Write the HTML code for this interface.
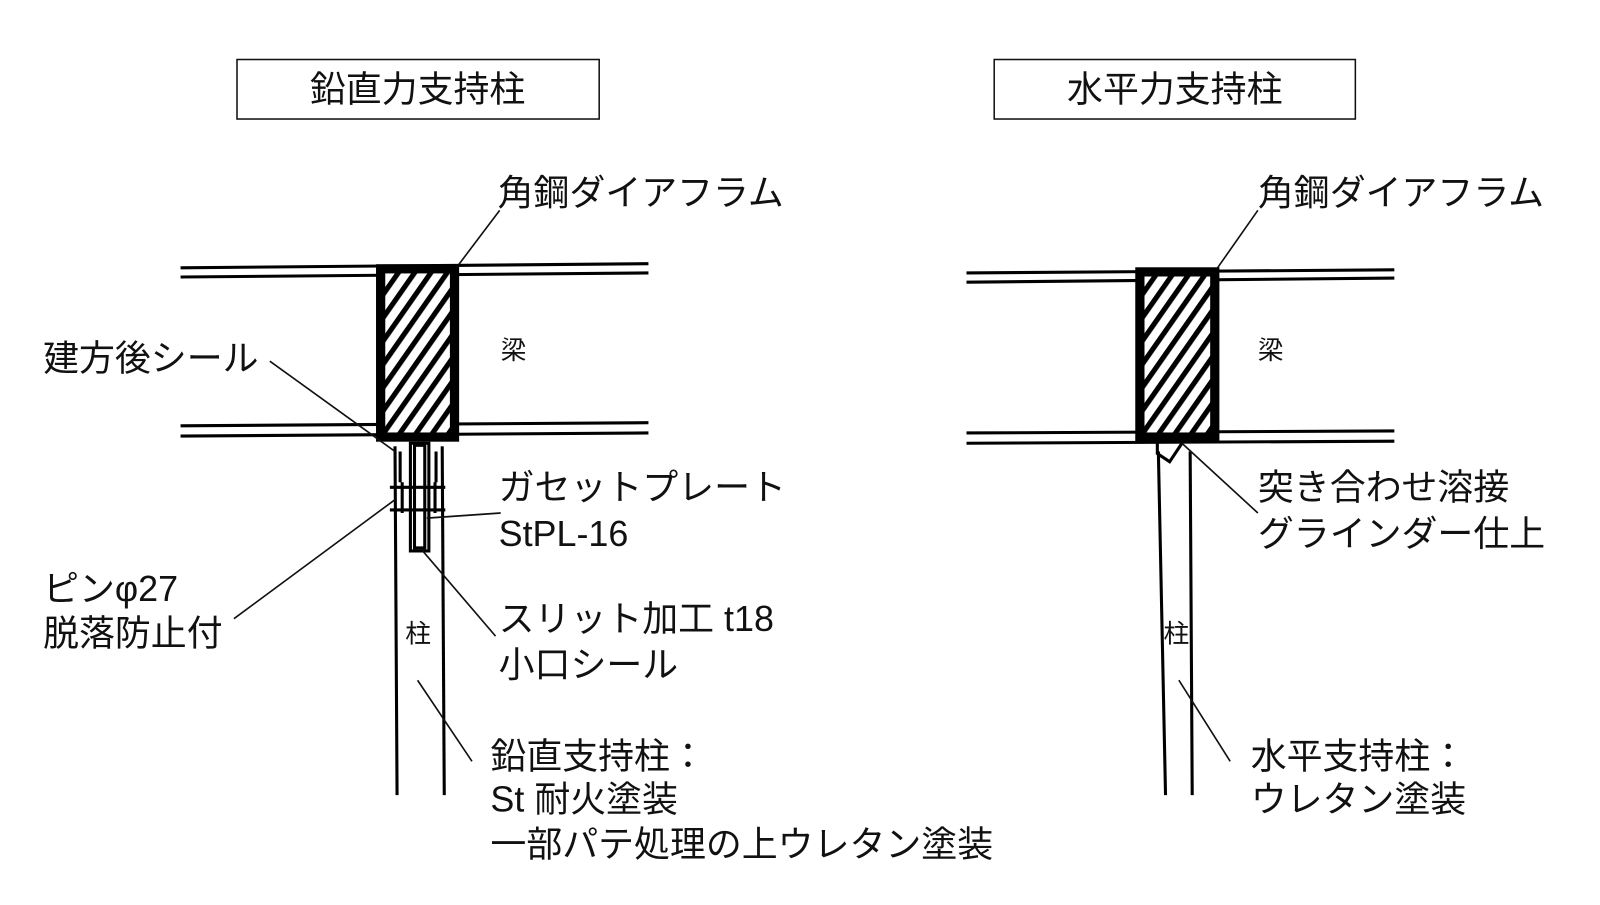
<!DOCTYPE html>
<html><head><meta charset="utf-8"><style>
body{margin:0;background:#fff}
svg text{font-family:"Liberation Sans","Noto Sans CJK JP",sans-serif;font-size:35px;fill:#111}
</style></head><body>
<svg width="1600" height="900" viewBox="0 0 1600 900" xmlns="http://www.w3.org/2000/svg">
<defs>
<pattern id="h" width="13" height="13" patternUnits="userSpaceOnUse" patternTransform="rotate(35)">
<rect width="13" height="13" fill="#fff"/><rect width="5" height="13" fill="#000"/>
</pattern>
</defs>
<g transform="scale(1.026)">
<g fill="none" stroke="#111" stroke-width="1.5">
<rect x="231" y="58" width="353" height="58"/>
</g>
<text x="407" y="99" text-anchor="middle">鉛直力支持柱</text>

<!-- LEFT -->
<g stroke="#000" fill="none" stroke-width="3">
<line x1="176" y1="261" x2="632" y2="257"/>
<line x1="176" y1="270" x2="632" y2="266"/>
<line x1="176" y1="415" x2="632" y2="412"/>
<line x1="176" y1="425" x2="632" y2="422"/>
</g>
<rect x="371" y="262" width="72" height="164" fill="url(#h)" stroke="#000" stroke-width="9"/>
<g stroke="#000" fill="none" stroke-width="3">
<line x1="385" y1="435" x2="387" y2="775"/>
<line x1="431" y1="435" x2="433" y2="775"/>
<path d="M390 440 V470 M425 440 V470 M392 470 V500 M424 470 V500"/>
<line x1="380" y1="475" x2="434" y2="475"/>
<line x1="380" y1="497" x2="434" y2="497"/>
<rect x="404" y="434" width="10" height="100"/>
<rect x="400" y="432" width="18" height="105"/>
</g>
<g stroke="#111" stroke-width="1.6" fill="none">
<line x1="487" y1="205" x2="447" y2="258"/>
<line x1="263" y1="352" x2="385" y2="440"/>
<line x1="488" y1="500" x2="416" y2="505"/>
<line x1="228" y1="603" x2="385" y2="487"/>
<line x1="483" y1="620" x2="412" y2="537"/>
<line x1="460" y1="742" x2="407" y2="663"/>
</g>
<text x="485" y="200">角鋼ダイアフラム</text>
<text x="488" y="350" style="font-size:25px">梁</text>
<text x="42" y="361">建方後シール</text>
<text x="486" y="487">ガセットプレート</text>
<text x="486" y="532">StPL-16</text>
<text x="42" y="586">ピンφ27</text>
<text x="42" y="629">脱落防止付</text>
<text x="395" y="626" style="font-size:25px">柱</text>
<text x="486" y="615">スリット加工 t18</text>
<text x="486" y="660">小口シール</text>
<text x="478" y="749">鉛直支持柱：</text>
<text x="478" y="791">St 耐火塗装</text>
<text x="478" y="835">一部パテ処理の上ウレタン塗装</text>

<!-- RIGHT -->
<g transform="translate(-6,0)">
<rect x="975" y="58" width="352" height="58" fill="none" stroke="#111" stroke-width="1.5"/>
<text x="1151" y="99" text-anchor="middle">水平力支持柱</text>
<g stroke="#000" fill="none" stroke-width="3">
<line x1="948" y1="266" x2="1365" y2="263"/>
<line x1="948" y1="275" x2="1365" y2="271"/>
<line x1="948" y1="422" x2="1365" y2="420"/>
<line x1="948" y1="432" x2="1365" y2="430"/>
</g>
<rect x="1117" y="265" width="73" height="161" fill="url(#h)" stroke="#000" stroke-width="9"/>
<g stroke="#000" fill="none" stroke-width="3">
<path d="M1134 430 V442 L1146 450 L1158 432"/>
<line x1="1135" y1="440" x2="1142" y2="775"/>
<line x1="1166" y1="440" x2="1168" y2="775"/>
</g>
<g stroke="#111" stroke-width="1.6" fill="none">
<line x1="1232" y1="205" x2="1192" y2="262"/>
<line x1="1232" y1="500" x2="1158" y2="432"/>
<line x1="1205" y1="742" x2="1155" y2="663"/>
</g>
<text x="1232" y="200">角鋼ダイアフラム</text>
<text x="1232" y="350" style="font-size:25px">梁</text>
<text x="1232" y="487">突き合わせ溶接</text>
<text x="1232" y="532">グラインダー仕上</text>
<text x="1140" y="626" style="font-size:25px">柱</text>
<text x="1225" y="749">水平支持柱：</text>
<text x="1225" y="791">ウレタン塗装</text>
</g>
</g>
</svg>
</body></html>
